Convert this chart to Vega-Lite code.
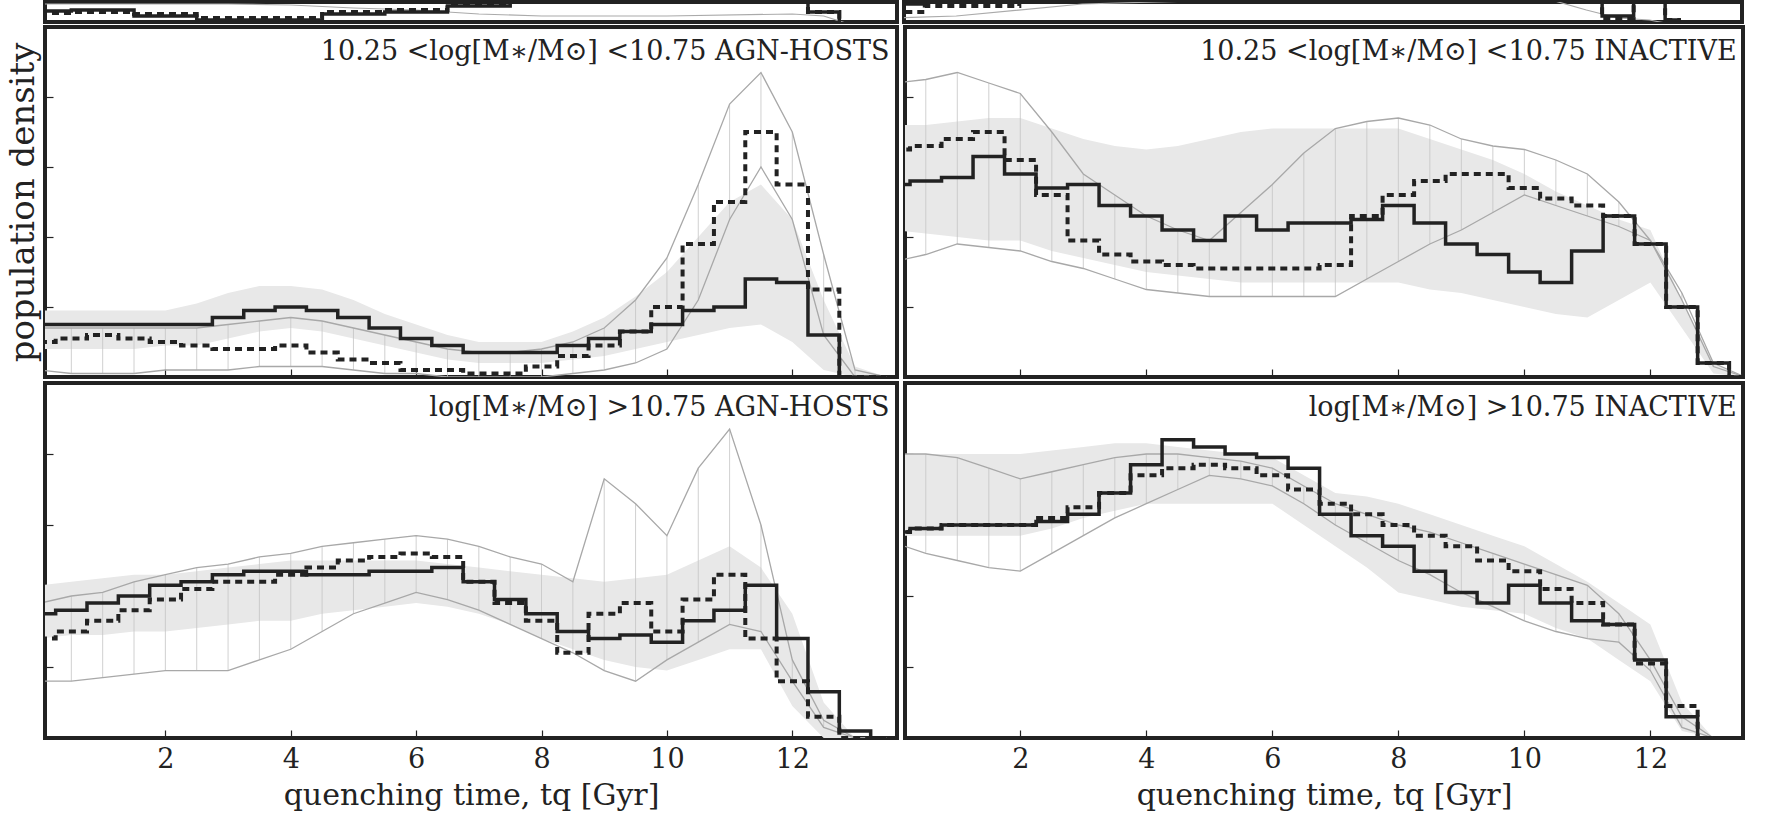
{
  "$schema": "https://vega.github.io/schema/vega-lite/v6.json",
  "padding": {"left": 4, "top": 0, "right": 16, "bottom": 0},
  "background": "white",
  "config": {
    "view": {"stroke": "#222", "strokeWidth": 4},
    "font": "DejaVu Serif",
    "axis": {"grid": false, "domain": false, "tickColor": "#222", "tickWidth": 1.2, "tickSize": -8, "labelFont": "DejaVu Serif", "titleFont": "DejaVu Serif", "labelColor": "#222", "titleColor": "#222", "titleFontWeight": "normal"}
  },
  "datasets": {
    "S": [
      {"x": 0, "s": 0.55, "d": 0.45, "l": 0.9},
      {"x": 1, "s": 0.6, "d": 0.5, "l": 0.9},
      {"x": 2, "s": 0.3, "d": 0.4, "l": 0.9},
      {"x": 3, "s": 0.1, "d": 0.2, "l": 0.9},
      {"x": 4, "s": 0.1, "d": 0.2, "l": 0.85},
      {"x": 5, "s": 0.4, "d": 0.5, "l": 0.7},
      {"x": 6, "s": 0.5, "d": 0.6, "l": 0.6},
      {"x": 7, "s": 0.8, "d": 0.9, "l": 0.4},
      {"x": 8, "s": 1.2, "d": 1.2, "l": 0.3},
      {"x": 10, "s": 1.5, "d": 1.5, "l": 0.3},
      {"x": 12, "s": 1.5, "d": 1.5, "l": 0.4},
      {"x": 12.5, "s": 0.5, "d": 0.5, "l": 0.3},
      {"x": 13, "s": -0.2, "d": -0.2, "l": -0.2}
    ],
    "SR": [
      {"x": 0, "s": 0.9, "d": 0.5, "l": 0.2},
      {"x": 1, "s": 1.2, "d": 0.8, "l": 0.3},
      {"x": 3, "s": 1.5, "d": 1.5, "l": 0.9},
      {"x": 10, "s": 1.5, "d": 1.5, "l": 1.5},
      {"x": 11, "s": 1.2, "d": 1.2, "l": 0.6},
      {"x": 11.5, "s": 0.3, "d": 0.2, "l": 0.2},
      {"x": 12, "s": 1.0, "d": 1.0, "l": 0.1},
      {"x": 12.5, "s": 0.1, "d": 0.1, "l": -0.2}
    ],
    "A": [
      {"x": 0, "s": 0.15, "d": 0.10, "bl": 0.08, "bh": 0.19, "ll": 0.02, "lh": 0.14},
      {"x": 0.5, "s": 0.15, "d": 0.11, "bl": 0.08, "bh": 0.19, "ll": 0.01, "lh": 0.14},
      {"x": 1, "s": 0.15, "d": 0.12, "bl": 0.08, "bh": 0.19, "ll": 0.01, "lh": 0.14},
      {"x": 1.5, "s": 0.15, "d": 0.11, "bl": 0.08, "bh": 0.19, "ll": 0.01, "lh": 0.14},
      {"x": 2, "s": 0.15, "d": 0.10, "bl": 0.09, "bh": 0.19, "ll": 0.02, "lh": 0.14},
      {"x": 2.5, "s": 0.15, "d": 0.09, "bl": 0.09, "bh": 0.21, "ll": 0.02, "lh": 0.14},
      {"x": 3, "s": 0.17, "d": 0.08, "bl": 0.11, "bh": 0.24, "ll": 0.02, "lh": 0.15},
      {"x": 3.5, "s": 0.19, "d": 0.08, "bl": 0.13, "bh": 0.26, "ll": 0.03, "lh": 0.16},
      {"x": 4, "s": 0.20, "d": 0.09, "bl": 0.14, "bh": 0.26, "ll": 0.03, "lh": 0.17},
      {"x": 4.5, "s": 0.19, "d": 0.07, "bl": 0.13, "bh": 0.25, "ll": 0.03, "lh": 0.16},
      {"x": 5, "s": 0.17, "d": 0.05, "bl": 0.11, "bh": 0.22, "ll": 0.02, "lh": 0.14},
      {"x": 5.5, "s": 0.14, "d": 0.04, "bl": 0.09, "bh": 0.18, "ll": 0.01, "lh": 0.12},
      {"x": 6, "s": 0.11, "d": 0.02, "bl": 0.07, "bh": 0.15, "ll": 0.01, "lh": 0.10},
      {"x": 6.5, "s": 0.09, "d": 0.02, "bl": 0.05, "bh": 0.12, "ll": 0.0, "lh": 0.08},
      {"x": 7, "s": 0.07, "d": 0.01, "bl": 0.04, "bh": 0.10, "ll": 0.0, "lh": 0.07},
      {"x": 7.5, "s": 0.07, "d": 0.01, "bl": 0.04, "bh": 0.10, "ll": 0.0, "lh": 0.07},
      {"x": 8, "s": 0.07, "d": 0.03, "bl": 0.04, "bh": 0.10, "ll": 0.0, "lh": 0.08},
      {"x": 8.5, "s": 0.09, "d": 0.06, "bl": 0.05, "bh": 0.13, "ll": 0.01, "lh": 0.10},
      {"x": 9, "s": 0.11, "d": 0.09, "bl": 0.06, "bh": 0.17, "ll": 0.02, "lh": 0.14},
      {"x": 9.5, "s": 0.13, "d": 0.13, "bl": 0.08, "bh": 0.23, "ll": 0.04, "lh": 0.22},
      {"x": 10, "s": 0.15, "d": 0.20, "bl": 0.10, "bh": 0.30, "ll": 0.08, "lh": 0.34},
      {"x": 10.5, "s": 0.19, "d": 0.38, "bl": 0.12, "bh": 0.40, "ll": 0.22, "lh": 0.55},
      {"x": 11, "s": 0.20, "d": 0.50, "bl": 0.14, "bh": 0.50, "ll": 0.45, "lh": 0.78},
      {"x": 11.5, "s": 0.28, "d": 0.70, "bl": 0.15, "bh": 0.55, "ll": 0.60, "lh": 0.87},
      {"x": 12, "s": 0.27, "d": 0.55, "bl": 0.10, "bh": 0.45, "ll": 0.45, "lh": 0.70},
      {"x": 12.5, "s": 0.12, "d": 0.25, "bl": 0.02, "bh": 0.22, "ll": 0.12, "lh": 0.35},
      {"x": 13, "s": 0.0, "d": 0.0, "bl": 0.0, "bh": 0.03, "ll": 0.0, "lh": 0.02},
      {"x": 13.5, "s": 0.0, "d": 0.0, "bl": 0.0, "bh": 0.0, "ll": 0.0, "lh": 0.0}
    ],
    "B": [
      {"x": 0, "s": 0.55, "d": 0.65, "bl": 0.42, "bh": 0.72, "ll": 0.33, "lh": 0.84},
      {"x": 0.5, "s": 0.56, "d": 0.66, "bl": 0.41, "bh": 0.72, "ll": 0.35, "lh": 0.85},
      {"x": 1, "s": 0.57, "d": 0.68, "bl": 0.40, "bh": 0.73, "ll": 0.38, "lh": 0.87},
      {"x": 1.5, "s": 0.63, "d": 0.70, "bl": 0.39, "bh": 0.74, "ll": 0.37, "lh": 0.84},
      {"x": 2, "s": 0.58, "d": 0.62, "bl": 0.39, "bh": 0.74, "ll": 0.36, "lh": 0.81},
      {"x": 2.5, "s": 0.54, "d": 0.52, "bl": 0.36, "bh": 0.71, "ll": 0.33, "lh": 0.70},
      {"x": 3, "s": 0.55, "d": 0.39, "bl": 0.34, "bh": 0.68, "ll": 0.31, "lh": 0.58},
      {"x": 3.5, "s": 0.49, "d": 0.35, "bl": 0.32, "bh": 0.66, "ll": 0.28, "lh": 0.52},
      {"x": 4, "s": 0.46, "d": 0.33, "bl": 0.30, "bh": 0.65, "ll": 0.25, "lh": 0.46},
      {"x": 4.5, "s": 0.42, "d": 0.32, "bl": 0.29, "bh": 0.66, "ll": 0.24, "lh": 0.42},
      {"x": 5, "s": 0.39, "d": 0.31, "bl": 0.28, "bh": 0.68, "ll": 0.23, "lh": 0.39},
      {"x": 5.5, "s": 0.46, "d": 0.31, "bl": 0.27, "bh": 0.70, "ll": 0.23, "lh": 0.47},
      {"x": 6, "s": 0.42, "d": 0.31, "bl": 0.27, "bh": 0.71, "ll": 0.23, "lh": 0.55},
      {"x": 6.5, "s": 0.44, "d": 0.31, "bl": 0.27, "bh": 0.71, "ll": 0.23, "lh": 0.64},
      {"x": 7, "s": 0.44, "d": 0.32, "bl": 0.27, "bh": 0.71, "ll": 0.23, "lh": 0.71},
      {"x": 7.5, "s": 0.45, "d": 0.46, "bl": 0.27, "bh": 0.71, "ll": 0.28, "lh": 0.73},
      {"x": 8, "s": 0.49, "d": 0.52, "bl": 0.27, "bh": 0.71, "ll": 0.33, "lh": 0.74},
      {"x": 8.5, "s": 0.44, "d": 0.56, "bl": 0.25, "bh": 0.68, "ll": 0.38, "lh": 0.72},
      {"x": 9, "s": 0.38, "d": 0.58, "bl": 0.24, "bh": 0.65, "ll": 0.42, "lh": 0.68},
      {"x": 9.5, "s": 0.35, "d": 0.58, "bl": 0.22, "bh": 0.62, "ll": 0.47, "lh": 0.66},
      {"x": 10, "s": 0.30, "d": 0.54, "bl": 0.20, "bh": 0.58, "ll": 0.52, "lh": 0.65},
      {"x": 10.5, "s": 0.27, "d": 0.51, "bl": 0.18, "bh": 0.53, "ll": 0.49, "lh": 0.62},
      {"x": 11, "s": 0.36, "d": 0.49, "bl": 0.17, "bh": 0.49, "ll": 0.46, "lh": 0.58},
      {"x": 11.5, "s": 0.46, "d": 0.46, "bl": 0.22, "bh": 0.45, "ll": 0.43, "lh": 0.50},
      {"x": 12, "s": 0.38, "d": 0.38, "bl": 0.27, "bh": 0.42, "ll": 0.39, "lh": 0.39},
      {"x": 12.5, "s": 0.20, "d": 0.20, "bl": 0.14, "bh": 0.22, "ll": 0.22, "lh": 0.24},
      {"x": 13, "s": 0.04, "d": 0.04, "bl": 0.01, "bh": 0.04, "ll": 0.03, "lh": 0.04},
      {"x": 13.5, "s": 0.0, "d": 0.0, "bl": 0.0, "bh": 0.0, "ll": 0.0, "lh": 0.0}
    ],
    "C": [
      {"x": 0, "s": 0.35, "d": 0.28, "bl": 0.28, "bh": 0.43, "ll": 0.16, "lh": 0.38},
      {"x": 0.5, "s": 0.36, "d": 0.30, "bl": 0.29, "bh": 0.44, "ll": 0.16, "lh": 0.40},
      {"x": 1, "s": 0.38, "d": 0.33, "bl": 0.29, "bh": 0.45, "ll": 0.17, "lh": 0.41},
      {"x": 1.5, "s": 0.40, "d": 0.36, "bl": 0.30, "bh": 0.46, "ll": 0.18, "lh": 0.44},
      {"x": 2, "s": 0.43, "d": 0.39, "bl": 0.30, "bh": 0.46, "ll": 0.19, "lh": 0.46},
      {"x": 2.5, "s": 0.44, "d": 0.42, "bl": 0.31, "bh": 0.47, "ll": 0.19, "lh": 0.48},
      {"x": 3, "s": 0.46, "d": 0.44, "bl": 0.32, "bh": 0.48, "ll": 0.19, "lh": 0.49},
      {"x": 3.5, "s": 0.47, "d": 0.44, "bl": 0.33, "bh": 0.49, "ll": 0.22, "lh": 0.51},
      {"x": 4, "s": 0.47, "d": 0.46, "bl": 0.33, "bh": 0.50, "ll": 0.25, "lh": 0.52},
      {"x": 4.5, "s": 0.46, "d": 0.48, "bl": 0.35, "bh": 0.50, "ll": 0.30, "lh": 0.54},
      {"x": 5, "s": 0.46, "d": 0.50, "bl": 0.36, "bh": 0.50, "ll": 0.35, "lh": 0.55},
      {"x": 5.5, "s": 0.47, "d": 0.51, "bl": 0.37, "bh": 0.50, "ll": 0.38, "lh": 0.56},
      {"x": 6, "s": 0.47, "d": 0.52, "bl": 0.38, "bh": 0.50, "ll": 0.41, "lh": 0.57},
      {"x": 6.5, "s": 0.48, "d": 0.51, "bl": 0.37, "bh": 0.49, "ll": 0.39, "lh": 0.56},
      {"x": 7, "s": 0.44, "d": 0.44, "bl": 0.35, "bh": 0.48, "ll": 0.36, "lh": 0.54},
      {"x": 7.5, "s": 0.39, "d": 0.38, "bl": 0.32, "bh": 0.47, "ll": 0.32, "lh": 0.51},
      {"x": 8, "s": 0.35, "d": 0.33, "bl": 0.28, "bh": 0.46, "ll": 0.28, "lh": 0.49},
      {"x": 8.5, "s": 0.30, "d": 0.24, "bl": 0.25, "bh": 0.45, "ll": 0.24, "lh": 0.44},
      {"x": 9, "s": 0.28, "d": 0.35, "bl": 0.22, "bh": 0.44, "ll": 0.19, "lh": 0.73},
      {"x": 9.5, "s": 0.29, "d": 0.38, "bl": 0.20, "bh": 0.45, "ll": 0.16, "lh": 0.66},
      {"x": 10, "s": 0.27, "d": 0.30, "bl": 0.19, "bh": 0.46, "ll": 0.22, "lh": 0.57},
      {"x": 10.5, "s": 0.33, "d": 0.39, "bl": 0.22, "bh": 0.50, "ll": 0.27, "lh": 0.76},
      {"x": 11, "s": 0.36, "d": 0.46, "bl": 0.25, "bh": 0.54, "ll": 0.32, "lh": 0.87},
      {"x": 11.5, "s": 0.43, "d": 0.28, "bl": 0.25, "bh": 0.48, "ll": 0.30, "lh": 0.60},
      {"x": 12, "s": 0.28, "d": 0.16, "bl": 0.09, "bh": 0.35, "ll": 0.16, "lh": 0.22},
      {"x": 12.5, "s": 0.13, "d": 0.06, "bl": 0.0, "bh": 0.10, "ll": 0.03, "lh": 0.05},
      {"x": 13, "s": 0.02, "d": 0.0, "bl": 0.0, "bh": 0.0, "ll": 0.0, "lh": 0.0},
      {"x": 13.5, "s": 0.0, "d": 0.0, "bl": 0.0, "bh": 0.0, "ll": 0.0, "lh": 0.0}
    ],
    "D": [
      {"x": 0, "s": 0.58, "d": 0.58, "bl": 0.57, "bh": 0.80, "ll": 0.55, "lh": 0.80},
      {"x": 0.5, "s": 0.59, "d": 0.59, "bl": 0.57, "bh": 0.80, "ll": 0.52, "lh": 0.80},
      {"x": 1, "s": 0.60, "d": 0.60, "bl": 0.57, "bh": 0.80, "ll": 0.50, "lh": 0.79},
      {"x": 1.5, "s": 0.60, "d": 0.60, "bl": 0.57, "bh": 0.80, "ll": 0.48, "lh": 0.76},
      {"x": 2, "s": 0.60, "d": 0.60, "bl": 0.57, "bh": 0.80, "ll": 0.47, "lh": 0.73},
      {"x": 2.5, "s": 0.61, "d": 0.62, "bl": 0.59, "bh": 0.81, "ll": 0.52, "lh": 0.75},
      {"x": 3, "s": 0.63, "d": 0.65, "bl": 0.62, "bh": 0.82, "ll": 0.57, "lh": 0.77},
      {"x": 3.5, "s": 0.69, "d": 0.69, "bl": 0.64, "bh": 0.83, "ll": 0.62, "lh": 0.79},
      {"x": 4, "s": 0.77, "d": 0.74, "bl": 0.66, "bh": 0.83, "ll": 0.66, "lh": 0.80},
      {"x": 4.5, "s": 0.84, "d": 0.76, "bl": 0.66, "bh": 0.82, "ll": 0.70, "lh": 0.80},
      {"x": 5, "s": 0.82, "d": 0.77, "bl": 0.66, "bh": 0.81, "ll": 0.74, "lh": 0.79},
      {"x": 5.5, "s": 0.80, "d": 0.76, "bl": 0.66, "bh": 0.80, "ll": 0.73, "lh": 0.78},
      {"x": 6, "s": 0.79, "d": 0.74, "bl": 0.66, "bh": 0.79, "ll": 0.71, "lh": 0.76},
      {"x": 6.5, "s": 0.76, "d": 0.70, "bl": 0.60, "bh": 0.74, "ll": 0.66, "lh": 0.71},
      {"x": 7, "s": 0.63, "d": 0.66, "bl": 0.54, "bh": 0.69, "ll": 0.60, "lh": 0.66},
      {"x": 7.5, "s": 0.57, "d": 0.63, "bl": 0.48, "bh": 0.68, "ll": 0.55, "lh": 0.63},
      {"x": 8, "s": 0.54, "d": 0.60, "bl": 0.41, "bh": 0.66, "ll": 0.50, "lh": 0.60},
      {"x": 8.5, "s": 0.47, "d": 0.57, "bl": 0.39, "bh": 0.63, "ll": 0.46, "lh": 0.58},
      {"x": 9, "s": 0.41, "d": 0.54, "bl": 0.37, "bh": 0.60, "ll": 0.41, "lh": 0.55},
      {"x": 9.5, "s": 0.38, "d": 0.50, "bl": 0.36, "bh": 0.57, "ll": 0.37, "lh": 0.52},
      {"x": 10, "s": 0.43, "d": 0.47, "bl": 0.35, "bh": 0.54, "ll": 0.33, "lh": 0.49},
      {"x": 10.5, "s": 0.38, "d": 0.42, "bl": 0.31, "bh": 0.49, "ll": 0.30, "lh": 0.46},
      {"x": 11, "s": 0.33, "d": 0.38, "bl": 0.28, "bh": 0.44, "ll": 0.28, "lh": 0.43},
      {"x": 11.5, "s": 0.32, "d": 0.32, "bl": 0.22, "bh": 0.38, "ll": 0.27, "lh": 0.35},
      {"x": 12, "s": 0.22, "d": 0.21, "bl": 0.16, "bh": 0.32, "ll": 0.19, "lh": 0.22},
      {"x": 12.5, "s": 0.06, "d": 0.09, "bl": 0.02, "bh": 0.10, "ll": 0.03, "lh": 0.06},
      {"x": 13, "s": 0.0, "d": 0.0, "bl": 0.0, "bh": 0.0, "ll": 0.0, "lh": 0.0},
      {"x": 13.5, "s": 0.0, "d": 0.0, "bl": 0.0, "bh": 0.0, "ll": 0.0, "lh": 0.0}
    ]
  },
  "vconcat": [
    {
      "hconcat": [
        {
          "width": 852, "height": 20, "data": {"name": "S"},
          "encoding": {"x": {"field": "x", "type": "quantitative", "scale": {"domain": [0.08, 13.67], "nice": false, "zero": false}, "axis": null}},
          "layer": [
            {"mark": {"type": "line", "color": "#aaa", "strokeWidth": 1.2, "clip": true}, "encoding": {"y": {"field": "l", "type": "quantitative", "scale": {"domain": [0, 1]}, "axis": null}}},
            {"mark": {"type": "line", "interpolate": "step", "color": "#222", "strokeWidth": 4, "strokeDash": [7, 5], "clip": true}, "encoding": {"y": {"field": "d", "type": "quantitative", "axis": null}}},
            {"mark": {"type": "line", "interpolate": "step", "color": "#222", "strokeWidth": 3.5, "clip": true}, "encoding": {"y": {"field": "s", "type": "quantitative", "axis": null}}}
          ]
        },
        {
          "width": 838, "height": 20, "data": {"name": "SR"},
          "encoding": {"x": {"field": "x", "type": "quantitative", "scale": {"domain": [0.17, 13.47], "nice": false, "zero": false}, "axis": null}},
          "layer": [
            {"mark": {"type": "line", "color": "#aaa", "strokeWidth": 1.2, "clip": true}, "encoding": {"y": {"field": "l", "type": "quantitative", "scale": {"domain": [0, 1]}, "axis": null}}},
            {"mark": {"type": "line", "interpolate": "step", "color": "#222", "strokeWidth": 4, "strokeDash": [7, 5], "clip": true}, "encoding": {"y": {"field": "d", "type": "quantitative", "axis": null}}},
            {"mark": {"type": "line", "interpolate": "step", "color": "#222", "strokeWidth": 3.5, "clip": true}, "encoding": {"y": {"field": "s", "type": "quantitative", "axis": null}}}
          ]
        }
      ],
      "spacing": 3
    },
    {
      "hconcat": [
        {
          "width": 852, "height": 350, "data": {"name": "A"},
          "encoding": {"x": {"field": "x", "type": "quantitative", "scale": {"domain": [0.08, 13.67], "nice": false, "zero": false}, "axis": {"labels": false, "title": null, "values": [2, 4, 6, 8, 10, 12]}}},
          "layer": [
            {"mark": {"type": "area", "color": "#e8e8e8", "clip": true}, "encoding": {"y": {"field": "bl", "type": "quantitative", "scale": {"domain": [0, 1]}, "axis": {"labels": false, "title": "population density", "titleFontSize": 34, "titlePadding": 4, "tickCount": 7}}, "y2": {"field": "bh"}}},
            {"mark": {"type": "rule", "color": "#c4c4c4", "strokeWidth": 0.8, "clip": true}, "encoding": {"y": {"field": "ll", "type": "quantitative", "axis": {"labels": false, "title": "population density", "titleFontSize": 34, "titlePadding": 4, "tickCount": 7}}, "y2": {"field": "lh"}}},
            {"mark": {"type": "line", "color": "#a8a8a8", "strokeWidth": 1.3, "clip": true}, "encoding": {"y": {"field": "ll", "type": "quantitative", "axis": {"labels": false, "title": "population density", "titleFontSize": 34, "titlePadding": 4, "tickCount": 7}}}},
            {"mark": {"type": "line", "color": "#a8a8a8", "strokeWidth": 1.3, "clip": true}, "encoding": {"y": {"field": "lh", "type": "quantitative", "axis": {"labels": false, "title": "population density", "titleFontSize": 34, "titlePadding": 4, "tickCount": 7}}}},
            {"mark": {"type": "line", "interpolate": "step", "color": "#222", "strokeWidth": 4, "strokeDash": [7, 5], "clip": true}, "encoding": {"y": {"field": "d", "type": "quantitative", "axis": {"labels": false, "title": "population density", "titleFontSize": 34, "titlePadding": 4, "tickCount": 7}}}},
            {"mark": {"type": "line", "interpolate": "step", "color": "#222", "strokeWidth": 3.5, "clip": true}, "encoding": {"y": {"field": "s", "type": "quantitative", "axis": {"labels": false, "title": "population density", "titleFontSize": 34, "titlePadding": 4, "tickCount": 7}}}},
            {"transform": [{"filter": "datum.x == 0"}], "mark": {"type": "text", "align": "right", "baseline": "middle", "fontSize": 27, "color": "#222"}, "encoding": {"x": {"datum": 13.55}, "y": {"datum": 0.93}, "text": {"value": "10.25 <log[M∗/M⊙] <10.75 AGN-HOSTS"}}}
          ]
        },
        {
          "width": 838, "height": 350, "data": {"name": "B"},
          "encoding": {"x": {"field": "x", "type": "quantitative", "scale": {"domain": [0.17, 13.47], "nice": false, "zero": false}, "axis": {"labels": false, "title": null, "values": [2, 4, 6, 8, 10, 12]}}},
          "layer": [
            {"mark": {"type": "area", "color": "#e8e8e8", "clip": true}, "encoding": {"y": {"field": "bl", "type": "quantitative", "scale": {"domain": [0, 1]}, "axis": {"labels": false, "title": "", "tickCount": 7}}, "y2": {"field": "bh"}}},
            {"mark": {"type": "rule", "color": "#c4c4c4", "strokeWidth": 0.8, "clip": true}, "encoding": {"y": {"field": "ll", "type": "quantitative", "axis": {"labels": false, "title": "", "tickCount": 7}}, "y2": {"field": "lh"}}},
            {"mark": {"type": "line", "color": "#a8a8a8", "strokeWidth": 1.3, "clip": true}, "encoding": {"y": {"field": "ll", "type": "quantitative", "axis": {"labels": false, "title": "", "tickCount": 7}}}},
            {"mark": {"type": "line", "color": "#a8a8a8", "strokeWidth": 1.3, "clip": true}, "encoding": {"y": {"field": "lh", "type": "quantitative", "axis": {"labels": false, "title": "", "tickCount": 7}}}},
            {"mark": {"type": "line", "interpolate": "step", "color": "#222", "strokeWidth": 4, "strokeDash": [7, 5], "clip": true}, "encoding": {"y": {"field": "d", "type": "quantitative", "axis": {"labels": false, "title": "", "tickCount": 7}}}},
            {"mark": {"type": "line", "interpolate": "step", "color": "#222", "strokeWidth": 3.5, "clip": true}, "encoding": {"y": {"field": "s", "type": "quantitative", "axis": {"labels": false, "title": "", "tickCount": 7}}}},
            {"transform": [{"filter": "datum.x == 0"}], "mark": {"type": "text", "align": "right", "baseline": "middle", "fontSize": 27, "color": "#222"}, "encoding": {"x": {"datum": 13.37}, "y": {"datum": 0.93}, "text": {"value": "10.25 <log[M∗/M⊙] <10.75 INACTIVE"}}}
          ]
        }
      ],
      "spacing": 3
    },
    {
      "hconcat": [
        {
          "width": 852, "height": 355, "data": {"name": "C"},
          "encoding": {"x": {"field": "x", "type": "quantitative", "scale": {"domain": [0.08, 13.67], "nice": false, "zero": false}, "axis": {"title": "quenching time, tq [Gyr]", "titleFontSize": 30, "labelFontSize": 27, "labelPadding": 16, "titlePadding": 8, "values": [2, 4, 6, 8, 10, 12]}}},
          "layer": [
            {"mark": {"type": "area", "color": "#e8e8e8", "clip": true}, "encoding": {"y": {"field": "bl", "type": "quantitative", "scale": {"domain": [0, 1]}, "axis": {"labels": false, "title": "", "tickCount": 6}}, "y2": {"field": "bh"}}},
            {"mark": {"type": "rule", "color": "#c4c4c4", "strokeWidth": 0.8, "clip": true}, "encoding": {"y": {"field": "ll", "type": "quantitative", "axis": {"labels": false, "title": "", "tickCount": 6}}, "y2": {"field": "lh"}}},
            {"mark": {"type": "line", "color": "#a8a8a8", "strokeWidth": 1.3, "clip": true}, "encoding": {"y": {"field": "ll", "type": "quantitative", "axis": {"labels": false, "title": "", "tickCount": 6}}}},
            {"mark": {"type": "line", "color": "#a8a8a8", "strokeWidth": 1.3, "clip": true}, "encoding": {"y": {"field": "lh", "type": "quantitative", "axis": {"labels": false, "title": "", "tickCount": 6}}}},
            {"mark": {"type": "line", "interpolate": "step", "color": "#222", "strokeWidth": 4, "strokeDash": [7, 5], "clip": true}, "encoding": {"y": {"field": "d", "type": "quantitative", "axis": {"labels": false, "title": "", "tickCount": 6}}}},
            {"mark": {"type": "line", "interpolate": "step", "color": "#222", "strokeWidth": 3.5, "clip": true}, "encoding": {"y": {"field": "s", "type": "quantitative", "axis": {"labels": false, "title": "", "tickCount": 6}}}},
            {"transform": [{"filter": "datum.x == 0"}], "mark": {"type": "text", "align": "right", "baseline": "middle", "fontSize": 27, "color": "#222"}, "encoding": {"x": {"datum": 13.55}, "y": {"datum": 0.93}, "text": {"value": "log[M∗/M⊙] >10.75 AGN-HOSTS"}}}
          ]
        },
        {
          "width": 838, "height": 355, "data": {"name": "D"},
          "encoding": {"x": {"field": "x", "type": "quantitative", "scale": {"domain": [0.17, 13.47], "nice": false, "zero": false}, "axis": {"title": "quenching time, tq [Gyr]", "titleFontSize": 30, "labelFontSize": 27, "labelPadding": 16, "titlePadding": 8, "values": [2, 4, 6, 8, 10, 12]}}},
          "layer": [
            {"mark": {"type": "area", "color": "#e8e8e8", "clip": true}, "encoding": {"y": {"field": "bl", "type": "quantitative", "scale": {"domain": [0, 1]}, "axis": {"labels": false, "title": "", "tickCount": 6}}, "y2": {"field": "bh"}}},
            {"mark": {"type": "rule", "color": "#c4c4c4", "strokeWidth": 0.8, "clip": true}, "encoding": {"y": {"field": "ll", "type": "quantitative", "axis": {"labels": false, "title": "", "tickCount": 6}}, "y2": {"field": "lh"}}},
            {"mark": {"type": "line", "color": "#a8a8a8", "strokeWidth": 1.3, "clip": true}, "encoding": {"y": {"field": "ll", "type": "quantitative", "axis": {"labels": false, "title": "", "tickCount": 6}}}},
            {"mark": {"type": "line", "color": "#a8a8a8", "strokeWidth": 1.3, "clip": true}, "encoding": {"y": {"field": "lh", "type": "quantitative", "axis": {"labels": false, "title": "", "tickCount": 6}}}},
            {"mark": {"type": "line", "interpolate": "step", "color": "#222", "strokeWidth": 4, "strokeDash": [7, 5], "clip": true}, "encoding": {"y": {"field": "d", "type": "quantitative", "axis": {"labels": false, "title": "", "tickCount": 6}}}},
            {"mark": {"type": "line", "interpolate": "step", "color": "#222", "strokeWidth": 3.5, "clip": true}, "encoding": {"y": {"field": "s", "type": "quantitative", "axis": {"labels": false, "title": "", "tickCount": 6}}}},
            {"transform": [{"filter": "datum.x == 0"}], "mark": {"type": "text", "align": "right", "baseline": "middle", "fontSize": 27, "color": "#222"}, "encoding": {"x": {"datum": 13.37}, "y": {"datum": 0.93}, "text": {"value": "log[M∗/M⊙] >10.75 INACTIVE"}}}
          ]
        }
      ],
      "spacing": 3
    }
  ],
  "spacing": 0
}
